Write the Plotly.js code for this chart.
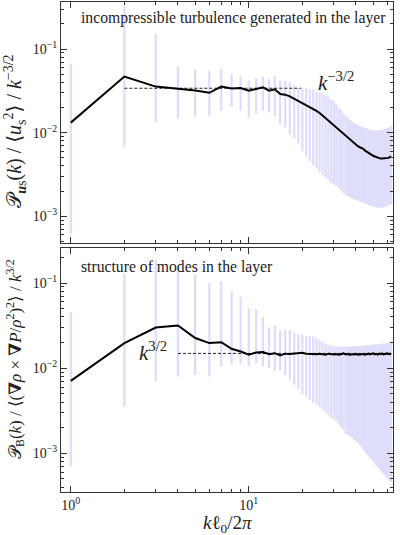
<!DOCTYPE html>
<html>
<head>
<meta charset="utf-8">
<script src="https://cdn.plot.ly/plotly-3.0.1.min.js"></script>
<style>html,body{margin:0;padding:0;background:#fff;}#chart{width:400px;height:535px;}</style>
</head>
<body>
<div id="chart"></div>
<script>
// wavenumber k l0 / 2pi
const k = [1,2,3,4,5,6,7,8,9,10,11,12,13,14,15,16,17,18,19,20,21,22,23,24,25,26,27,28,29,30,31,32,33,34,35,36,37,38,39,40,41,42,43,44,45,46,47,48,49,50,51,52,53,54,55,56,57,58,59,60,61,62,63];

// top panel: compensated incompressible velocity spectrum
const topMean = [0.0132,0.047,0.0356,0.0334,0.0319,0.0300,0.0356,0.0337,0.0343,0.0318,0.0337,0.0349,0.0318,0.0330,0.0290,0.0285,0.0272,0.0255,0.0240,0.0228,0.0215,0.0203,0.0192,0.0182,0.0172,0.0160,0.0150,0.0138,0.0130,0.0124,0.0116,0.0109,0.0102,0.0097,0.0092,0.0088,0.0083,0.0079,0.0075,0.0071,0.0069,0.0067,0.0066,0.0064,0.0061,0.0059,0.0057,0.0055,0.0054,0.0053,0.0052,0.0051,0.0050,0.0050,0.0049,0.0049,0.0049,0.0049,0.0049,0.0050,0.0050,0.0051,0.0052];
const topHi = [0.067,0.33,0.154,0.062,0.057,0.055,0.058,0.051,0.047,0.042,0.045,0.047,0.044,0.048,0.042,0.042,0.040,0.037,0.034,0.034,0.034,0.033,0.033,0.031,0.030,0.029,0.028,0.027,0.025,0.024,0.022,0.020,0.019,0.017,0.016,0.0150,0.0142,0.0135,0.0130,0.0126,0.0123,0.0120,0.0118,0.0116,0.0114,0.0112,0.0110,0.0109,0.0108,0.0107,0.0106,0.0106,0.0106,0.0106,0.0107,0.0108,0.0109,0.0110,0.0111,0.0113,0.0115,0.0118,0.0121];
const topLo = [0.00063,0.0067,0.0133,0.0146,0.0156,0.016,0.0183,0.0204,0.0183,0.0152,0.0167,0.0183,0.0175,0.016,0.0125,0.0115,0.0095,0.0085,0.0075,0.0060,0.0052,0.0046,0.0041,0.0037,0.0034,0.0031,0.0029,0.0027,0.0025,0.0024,0.0023,0.0022,0.0020,0.0019,0.0018,0.00175,0.0017,0.00165,0.0016,0.00157,0.00153,0.0015,0.00148,0.00146,0.00143,0.0014,0.00137,0.00135,0.00133,0.00131,0.0013,0.00128,0.00127,0.00127,0.00127,0.00127,0.00128,0.0013,0.00132,0.00134,0.00136,0.00138,0.0014];

// bottom panel: compensated baroclinic spectrum
const botMean = [0.0071,0.0197,0.030,0.0317,0.0226,0.0197,0.0202,0.0169,0.0157,0.0144,0.0153,0.0155,0.0146,0.0150,0.0141,0.0148,0.0147,0.0149,0.0151,0.0152,0.0148,0.0147,0.0149,0.0146,0.0148,0.0147,0.0144,0.0148,0.0146,0.0145,0.0147,0.0144,0.0146,0.0149,0.0145,0.0147,0.0143,0.0146,0.0145,0.0147,0.0144,0.0146,0.0145,0.0147,0.0144,0.0146,0.0148,0.0145,0.0147,0.0149,0.0145,0.0147,0.0144,0.0148,0.0146,0.0149,0.0145,0.0147,0.0146,0.0149,0.0147,0.0146,0.0150];
const botHi = [0.046,0.13,0.188,0.144,0.125,0.100,0.105,0.080,0.069,0.051,0.049,0.040,0.030,0.032,0.028,0.028,0.028,0.026,0.025,0.025,0.024,0.024,0.0236,0.0225,0.0215,0.0205,0.0195,0.0188,0.0184,0.0182,0.0180,0.0180,0.0179,0.0179,0.0179,0.0180,0.0180,0.0180,0.0181,0.0181,0.0182,0.0182,0.0183,0.0184,0.0185,0.0186,0.0187,0.0187,0.0188,0.0189,0.0190,0.0190,0.0191,0.0191,0.0192,0.0193,0.0194,0.0194,0.0195,0.0195,0.0196,0.0197,0.0198];
const botLo = [0.0007,0.0035,0.0070,0.0080,0.0083,0.0080,0.0105,0.0110,0.0113,0.0105,0.0115,0.0105,0.0100,0.0093,0.0095,0.0082,0.0073,0.0064,0.0057,0.0050,0.0046,0.0042,0.0039,0.0037,0.0035,0.0032,0.0030,0.0028,0.0026,0.0025,0.0024,0.0022,0.0020,0.0019,0.0017,0.00165,0.0016,0.00152,0.00145,0.0014,0.00133,0.00125,0.00118,0.0011,0.00104,0.00098,0.00093,0.00088,0.00084,0.0008,0.00076,0.00072,0.00069,0.00066,0.00063,0.0006,0.00058,0.00056,0.00053,0.00051,0.00049,0.00047,0.00046];

// reference power laws
const topRefX = [2, 19.7];
const topRefY = [0.034, 0.034];
const botRefX = [4, 63];
const botRefY = [0.0149, 0.0149];

// tick labels
const xTickVals = [1, 10];
const xTickText = ['10<sup>0</sup>', '10<sup>1</sup>'];
const yTickVals = [0.001, 0.01, 0.1];
const yTickText = ['10<sup>−3</sup>', '10<sup>−2</sup>', '10<sup>−1</sup>'];

function bars(lo, hi, xa, ya) {
  const x = [], y = [];
  for (let i = 0; i < k.length; i++) { x.push(k[i], k[i], null); y.push(lo[i], hi[i], null); }
  return {x, y, xaxis: xa, yaxis: ya, mode: 'lines', line: {color: 'rgb(222,222,250)', width: 2.3}, hoverinfo: 'skip', showlegend: false};
}

const traces = [
  bars(topLo, topHi, 'x', 'y'),
  {x: topRefX, y: topRefY, xaxis: 'x', yaxis: 'y', mode: 'lines', line: {color: '#222', width: 1, dash: '3px,2px'}, showlegend: false},
  {x: k, y: topMean, xaxis: 'x', yaxis: 'y', mode: 'lines', line: {color: '#000', width: 2}, showlegend: false},
  bars(botLo, botHi, 'x2', 'y2'),
  {x: botRefX, y: botRefY, xaxis: 'x2', yaxis: 'y2', mode: 'lines', line: {color: '#222', width: 1, dash: '3px,2px'}, showlegend: false},
  {x: k, y: botMean, xaxis: 'x2', yaxis: 'y2', mode: 'lines', line: {color: '#000', width: 2}, showlegend: false}
];

const xMinor = [2,3,4,5,6,7,8,9,20,30,40,50,60];
const yMinor = [];
[0.0001, 0.001, 0.01, 0.1].forEach(d => { for (let m = 2; m <= 9; m++) yMinor.push(+(d * m).toPrecision(3)); });

const FONT = '"Liberation Serif", "DejaVu Serif", serif';
function xax(anchor, labels) {
  return {type: 'log', range: [-0.055, 1.81], anchor: anchor, showline: true, linecolor: '#333', linewidth: 1, mirror: 'allticks',
    ticks: 'inside', ticklen: 6, tickcolor: '#333', tickvals: xTickVals, ticktext: xTickText, showticklabels: labels,
    minor: {tickvals: xMinor, ticks: 'inside', ticklen: 3, tickcolor: '#333'},
    showgrid: false, zeroline: false, tickfont: {family: FONT, size: 14, color: '#222'}};
}
function yax(anchor, dom, rng) {
  return {type: 'log', range: rng, domain: dom, anchor: anchor, showline: true, linecolor: '#333', linewidth: 1, mirror: 'allticks',
    ticks: 'inside', ticklen: 6, tickcolor: '#333', tickvals: yTickVals, ticktext: yTickText,
    minor: {tickvals: yMinor, ticks: 'inside', ticklen: 3, tickcolor: '#333'},
    showgrid: false, zeroline: false, tickfont: {family: FONT, size: 14, color: '#222'}};
}

const layout = {
  width: 400, height: 535,
  margin: {l: 61, r: 7, t: 2, b: 43},
  paper_bgcolor: '#fff', plot_bgcolor: '#fff',
  font: {family: FONT, color: '#222'},
  xaxis: xax('y', false),
  yaxis: yax('x', [0.508, 1], [-3.32, -0.437]),
  xaxis2: xax('y2', true),
  yaxis2: yax('x2', [0, 0.498], [-3.455, -0.588]),
  annotations: [
    {xref: 'paper', yref: 'paper', x: 0.054, y: 0.967, xanchor: 'left', yanchor: 'middle', showarrow: false,
     text: 'incompressible turbulence generated in the layer', font: {family: FONT, size: 15.7, color: '#222'}},
    {xref: 'paper', yref: 'paper', x: 0.054, y: 0.459, xanchor: 'left', yanchor: 'middle', showarrow: false,
     text: 'structure of modes in the layer', font: {family: FONT, size: 15.7, color: '#222'}},
    {xref: 'paper', yref: 'paper', x: 0.828, y: 0.837, xanchor: 'center', yanchor: 'middle', showarrow: false,
     text: '<i>k</i><sup>−3/2</sup>', font: {family: FONT, size: 21, color: '#222'}},
    {xref: 'paper', yref: 'paper', x: 0.277, y: 0.286, xanchor: 'center', yanchor: 'middle', showarrow: false,
     text: '<i>k</i><sup>3/2</sup>', font: {family: FONT, size: 21, color: '#222'}},
    {xref: 'paper', yref: 'paper', x: 0.5, y: -0.066, xanchor: 'center', yanchor: 'middle', showarrow: false,
     text: '<i>k</i>ℓ<sub>0</sub>/2<i>π</i>', font: {family: FONT, size: 19, color: '#222'}},
    {xref: 'paper', yref: 'paper', x: -0.139, y: 0.737, xanchor: 'center', yanchor: 'middle', showarrow: false, textangle: -90,
     text: '𝒫<sub><b><i>u</i></b>s</sub>(<i>k</i>) / ⟨<i>u</i><sub>s</sub><sup>2</sup>⟩ / <i>k</i><sup>−3/2</sup>', font: {family: FONT, size: 20, color: '#222'}},
    {xref: 'paper', yref: 'paper', x: -0.139, y: 0.271, xanchor: 'center', yanchor: 'middle', showarrow: false, textangle: -90,
     text: '𝒫<sub>B</sub>(<i>k</i>) / ⟨(<b>∇</b><i>ρ</i> × <b>∇</b><i>P</i>/<i>ρ</i><sup>2</sup>)<sup>2</sup>⟩ / <i>k</i><sup>3/2</sup>', font: {family: FONT, size: 17, color: '#222'}}
  ]
};

Plotly.newPlot('chart', traces, layout, {staticPlot: true, displayModeBar: false});
</script>
</body>
</html>
